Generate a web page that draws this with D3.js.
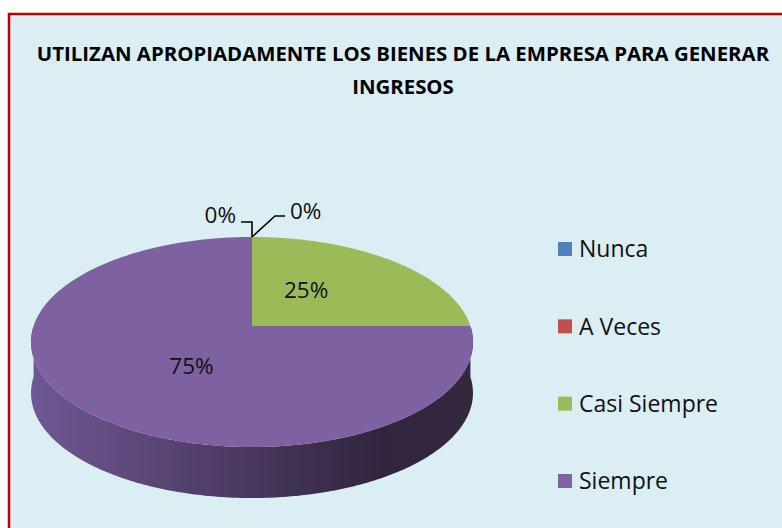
<!DOCTYPE html>
<html>
<head>
<meta charset="utf-8">
<script src="https://cdn.jsdelivr.net/npm/d3@7/dist/d3.min.js"></script>
<style>
  body { margin: 0; background: #fff; }
  svg { display: block; }
</style>
</head>
<body>
<script>
// data
const categories = ["Nunca", "A Veces", "Casi Siempre", "Siempre"];
const values = [0, 0, 1, 3];
const colors = ["#4F81BD", "#C0504D", "#9BBB59", "#8064A2"];
const topColors = ["#4F81BD", "#C0504D", "#9BBB59", "#7E61A0"];
const titleLines = ["UTILIZAN APROPIADAMENTE LOS BIENES DE LA EMPRESA PARA GENERAR", "INGRESOS"];

const W = 782, H = 528;
const svg = d3.select("body").append("svg")
  .attr("width", W)
  .attr("height", H);

// chart area
svg.append("rect")
  .attr("x", 9).attr("y", 14)
  .attr("width", W + 10).attr("height", H + 10)
  .attr("fill", "#DBEEF4")
  .attr("stroke", "#C00000")
  .attr("stroke-width", 2.5);

// title
const title = svg.append("g")
  .attr("font-family", "'Open Sans', sans-serif")
  .attr("font-weight", "bold")
  .attr("font-size", 20.4)
  .attr("fill", "#000")
  .attr("text-anchor", "middle");
titleLines.forEach((t, i) => {
  const el = title.append("text")
    .attr("x", 403)
    .attr("y", 61 + i * 33)
    .text(t);
  const len = el.node().getComputedTextLength();
  if (len > 733) el.attr("textLength", 733).attr("lengthAdjust", "spacingAndGlyphs");
});

// 3d pie geometry (perspective-tilted disc)
const cx = 252, cy = 326, rx = 218.4, ry = 102.6, k = 0.1524, depth = 51;
function proj(t, r, dz) {
  const u = Math.sin(t) * r, v = -Math.cos(t) * r;
  const s = 1 / (1 - k * v);
  return [cx + rx * u * s, cy + ry * v * s + (dz || 0)];
}
function arcPts(a0, a1, dz) {
  const n = Math.max(2, Math.ceil((a1 - a0) / 0.01));
  return d3.range(n + 1).map(i => proj(a0 + (a1 - a0) * i / n, 1, dz));
}
const line = d3.line();

const pie = d3.pie().sort(null).value(d => d);
const arcs = pie(values);
const total = d3.sum(values);

// side gradient
const defs = svg.append("defs");
const grad = defs.append("linearGradient")
  .attr("id", "sideGrad")
  .attr("gradientUnits", "userSpaceOnUse")
  .attr("x1", cx - rx - 3).attr("x2", cx + rx + 3)
  .attr("y1", 0).attr("y2", 0);
grad.append("stop").attr("offset", "0%").attr("stop-color", "#6E5894");
grad.append("stop").attr("offset", "45%").attr("stop-color", "#4C3B63");
grad.append("stop").attr("offset", "80%").attr("stop-color", "#30253D");
grad.append("stop").attr("offset", "100%").attr("stop-color", "#34283F");

// side walls (front half only)
const pieG = svg.append("g");
arcs.forEach((a, i) => {
  const s0 = Math.max(a.startAngle, Math.PI / 2);
  const s1 = Math.min(a.endAngle, Math.PI * 1.5);
  if (s1 <= s0) return;
  const top = arcPts(s0, s1, 0);
  const bot = arcPts(s0, s1, depth).reverse();
  pieG.append("path")
    .attr("d", line(top.concat(bot)) + "Z")
    .attr("fill", i == 3 ? "url(#sideGrad)" : d3.color(colors[i]).darker(1));
});

// top faces
arcs.forEach((a, i) => {
  if (a.endAngle - a.startAngle <= 0) return;
  const pts = [[cx, cy]].concat(arcPts(a.startAngle, a.endAngle, 0));
  pieG.append("path")
    .attr("d", line(pts) + "Z")
    .attr("fill", topColors[i]);
});

// data labels
const fmt = d => Math.round(d * 100) + "%";
const labels = svg.append("g")
  .attr("font-family", "'Open Sans', sans-serif")
  .attr("font-size", 22.5)
  .attr("fill", "#111");
arcs.forEach((a, i) => {
  if (a.value <= 0) return;
  const mid = (a.startAngle + a.endAngle) / 2;
  const u = Math.sin(mid), v = -Math.cos(mid);
  const lu = u * 0.37, lv = v * 0.52;
  const s = 1 / (1 - k * lv);
  labels.append("text")
    .attr("x", cx + rx * lu * s)
    .attr("y", cy + ry * lv * s)
    .attr("dy", "0.36em")
    .attr("text-anchor", "middle")
    .text(fmt(a.value / total));
});

// zero labels with leader lines
const anchor = proj(0, 1, 0);
const leaders = [
  { pts: [[0, 0], [0, -15], [-11, -15]], tx: -16, ty: -14, anchorText: "end" },
  { pts: [[0, 0], [23, -21], [33, -21]], tx: 38, ty: -18, anchorText: "start" }
];
arcs.filter(a => a.value == 0).forEach((a, j) => {
  const L = leaders[j];
  labels.append("path")
    .attr("d", line(L.pts.map(p => [anchor[0] + p[0], anchor[1] + p[1]])))
    .attr("fill", "none")
    .attr("stroke", "#000")
    .attr("stroke-width", 1.6);
  labels.append("text")
    .attr("x", anchor[0] + L.tx)
    .attr("y", anchor[1] + L.ty)
    .attr("text-anchor", L.anchorText)
    .text(fmt(a.value / total));
});

// legend
const legY = d3.scalePoint().domain(categories).range([249, 481]);
const legend = svg.append("g")
  .attr("font-family", "'Open Sans', sans-serif")
  .attr("font-size", 23)
  .attr("fill", "#111");
categories.forEach((c, i) => {
  legend.append("rect")
    .attr("x", 558).attr("y", legY(c) - 7)
    .attr("width", 14).attr("height", 14)
    .attr("fill", colors[i]);
  legend.append("text")
    .attr("x", 579).attr("y", legY(c))
    .attr("dy", "0.36em")
    .text(c);
});
</script>
</body>
</html>
